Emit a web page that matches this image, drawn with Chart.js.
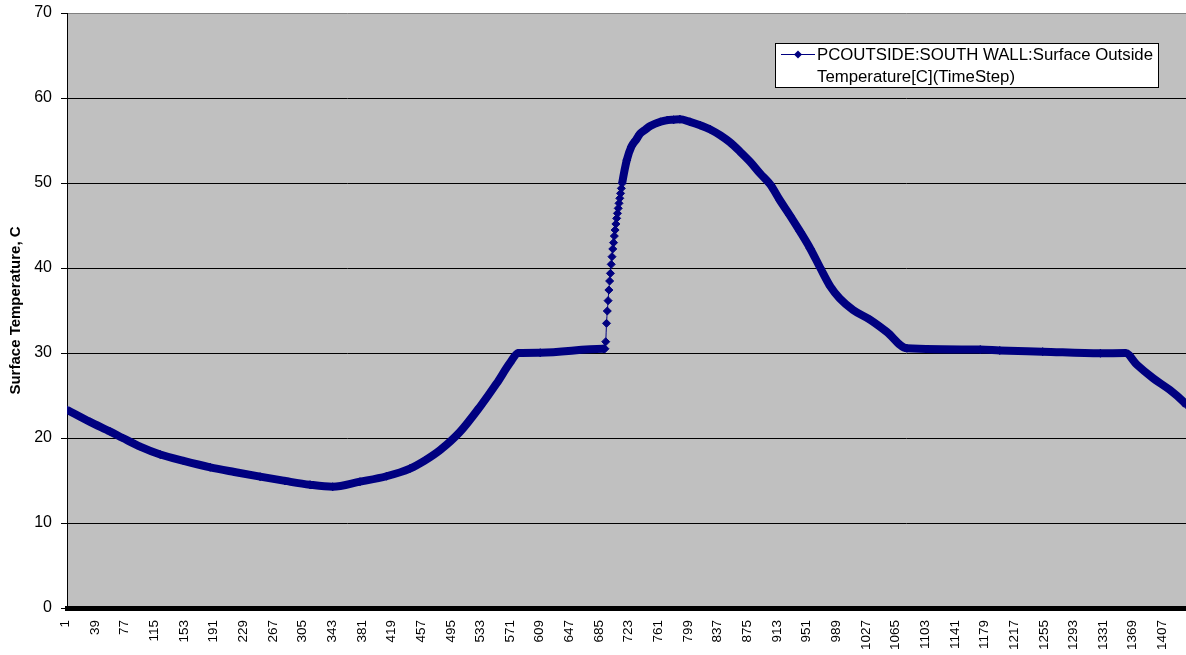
<!DOCTYPE html>
<html><head><meta charset="utf-8">
<script src="https://cdn.jsdelivr.net/npm/chart.js@4/dist/chart.umd.min.js"></script>
<style>html,body{margin:0;padding:0;background:#fff;overflow:hidden}</style>
</head><body>
<canvas id="c" width="1186" height="655"></canvas>
<script>
const seriesLabel = 'PCOUTSIDE:SOUTH WALL:Surface Outside Temperature[C](TimeStep)';
const legendLines = ['PCOUTSIDE:SOUTH WALL:Surface Outside', 'Temperature[C](TimeStep)'];
const yTitle = 'Surface Temperature, C';

// time step index (x) and surface temperature (y)
const timeSteps = [1, 30, 56, 72, 95, 120, 150, 184, 215, 248, 280, 312, 341, 376, 410, 440, 460, 479, 504, 530, 551, 568, 579, 607, 688, 690,
  691, 692, 693, 694, 695, 696, 697, 698, 699, 700, 701, 702, 703, 704, 705, 706, 707, 708, 709, 710, 711, 712,
  718, 724, 730, 735, 742, 748, 761, 770, 778, 786, 799, 812, 825, 838, 850, 863, 876, 889, 902, 914, 927, 940, 953, 966, 979, 991, 1008, 1030,
  1051, 1077, 1171, 1196, 1251, 1325, 1357, 1372, 1393, 1414, 1431, 1435];
const temperatures = [23.3, 21.9, 20.75, 20.0, 18.95, 18.05, 17.3, 16.55, 16.0, 15.45, 14.95, 14.5, 14.27, 14.86, 15.5, 16.4, 17.4, 18.6, 20.7, 23.7, 26.4, 28.8, 30.0, 30.04, 30.5, 30.5,
  31.33, 33.49, 34.94, 36.16, 37.41, 38.47, 39.37, 40.43, 41.33, 42.24, 42.98, 43.76, 44.47, 45.18, 45.84, 46.43, 47.02, 47.61, 48.2, 48.78, 49.37, 49.96,
  52.7, 54.3, 55.1, 55.8, 56.3, 56.7, 57.2, 57.4, 57.45, 57.5, 57.2, 56.8, 56.3, 55.6, 54.8, 53.7, 52.5, 51.1, 49.8, 48.0, 46.2, 44.3, 42.3, 40.0, 37.8, 36.4, 35.06, 33.9,
  32.5, 30.55, 30.4, 30.3, 30.16, 29.96, 30.0, 28.6, 27.0, 25.65, 24.3, 23.9];

const xTickValues = [1, 39, 77, 115, 153, 191, 229, 267, 305, 343, 381, 419, 457, 495, 533, 571, 609, 647, 685, 723,
  761, 799, 837, 875, 913, 951, 989, 1027, 1065, 1103, 1141, 1179, 1217, 1255, 1293, 1331, 1369, 1407];
const yTickValues = [0, 10, 20, 30, 40, 50, 60, 70];

const points = timeSteps.map((t, i) => ({x: t, y: temperatures[i]}));
const NAVY = '#000080';
const FONT = "'Liberation Sans', Arial, sans-serif";
Chart.defaults.font.family = FONT;
Chart.defaults.color = '#000';

const plotBg = {
  id: 'plotBg',
  beforeDraw(chart) {
    const {ctx, chartArea: a} = chart;
    ctx.save();
    ctx.fillStyle = '#c0c0c0';
    ctx.fillRect(a.left, a.top, a.right - a.left, a.bottom - a.top);
    ctx.restore();
  }
};

const boxLegend = {
  id: 'boxLegend',
  afterDraw(chart) {
    const ctx = chart.ctx;
    const x0 = 775.5, y0 = 43.5, w = 383, h = 44;
    ctx.save();
    ctx.fillStyle = '#fff';
    ctx.fillRect(x0, y0, w, h);
    ctx.strokeStyle = '#000';
    ctx.lineWidth = 1;
    ctx.strokeRect(x0, y0, w, h);
    const ds = chart.data.datasets[0];
    ctx.strokeStyle = ds.borderColor;
    ctx.beginPath();
    ctx.moveTo(781, 54.5);
    ctx.lineTo(815, 54.5);
    ctx.stroke();
    ctx.fillStyle = ds.borderColor;
    ctx.beginPath();
    ctx.moveTo(798, 50.5); ctx.lineTo(802, 54.5); ctx.lineTo(798, 58.5); ctx.lineTo(794, 54.5);
    ctx.closePath(); ctx.fill();
    ctx.fillStyle = '#000';
    ctx.font = '16.8px ' + FONT;
    ctx.textBaseline = 'alphabetic';
    ctx.textAlign = 'left';
    ctx.fillText(legendLines[0], 817, 59.5);
    ctx.fillText(legendLines[1], 817, 82);
    ctx.restore();
  }
};

new Chart(document.getElementById('c'), {
  type: 'line',
  data: {
    datasets: [{
      label: seriesLabel,
      data: points,
      borderColor: NAVY,
      backgroundColor: NAVY,
      borderWidth: 8,
      borderJoinStyle: 'round',
      borderCapStyle: 'butt',
      pointStyle: 'rectRot',
      pointRadius: 4,
      pointBorderWidth: 1,
      pointBackgroundColor: NAVY,
      pointBorderColor: NAVY,
      cubicInterpolationMode: 'monotone',
      segment: {
        borderWidth: ctx => (ctx.p0.parsed.x >= 690 && ctx.p1.parsed.x <= 712) ? 1 : 8
      }
    }]
  },
  options: {
    responsive: false,
    devicePixelRatio: 1,
    animation: false,
    events: [],
    layout: {autoPadding: false, padding: {top: 13, right: 0, bottom: 0, left: 0}},
    plugins: {legend: {display: false}, tooltip: {enabled: false}},
    scales: {
      x: {
        type: 'linear',
        min: 0.5,
        max: 1434.7,
        afterBuildTicks: s => { s.ticks = xTickValues.map(v => ({value: v})); },
        afterFit: s => { s.height = 47; s.paddingLeft = 0; s.paddingRight = 0; },
        ticks: {autoSkip: false, minRotation: 90, maxRotation: 90, padding: 12, labelOffset: -2,
          font: {size: 13.5}, color: '#000', callback: v => String(v)},
        grid: {display: false, drawTicks: false},
        border: {display: true, color: '#000', width: 5}
      },
      y: {
        min: 0,
        max: 70,
        afterBuildTicks: s => { s.ticks = yTickValues.map(v => ({value: v})); },
        afterFit: s => { s.width = 67; s.paddingTop = 0; s.paddingBottom = 0; },
        ticks: {padding: 9, font: {size: 16}, color: '#000'},
        grid: {color: c => c.tick && c.tick.value === 70 ? '#808080' : '#000', lineWidth: 1, tickLength: 6, tickColor: '#000', drawTicks: true},
        border: {display: true, color: '#000', width: 1},
        title: {display: true, text: yTitle, font: {size: 15, weight: 'bold'}, color: '#000', padding: {top: 7, bottom: 0}}
      }
    }
  },
  plugins: [plotBg, boxLegend]
});
</script>
</body></html>
